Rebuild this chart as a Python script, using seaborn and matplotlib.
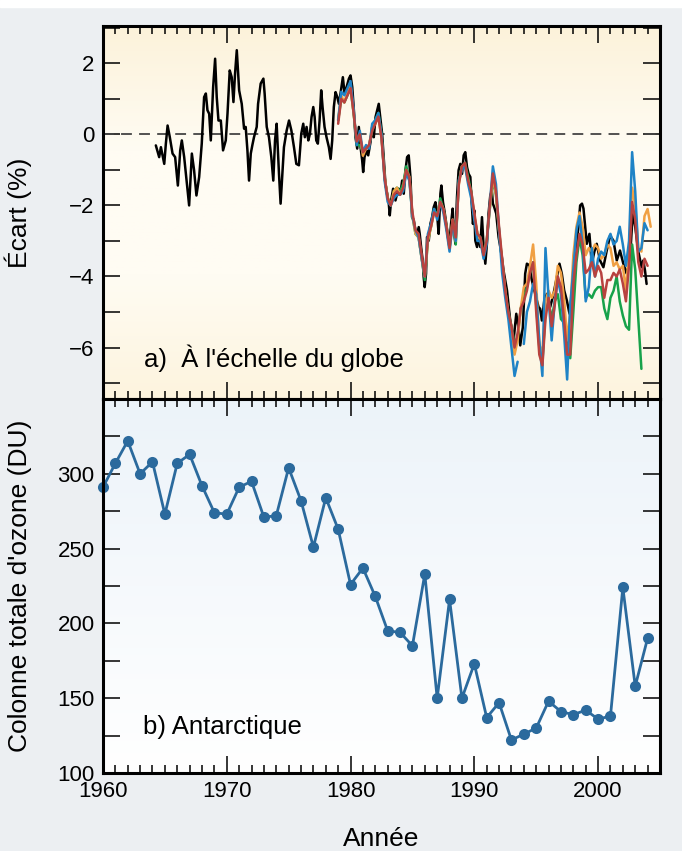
import numpy as np
import pandas as pd
import matplotlib
matplotlib.use("Agg")
import matplotlib.pyplot as plt
import seaborn as sns
from matplotlib.ticker import MultipleLocator, FixedLocator
from matplotlib.colors import LinearSegmentedColormap
from matplotlib.patches import Rectangle

# a) global ozone deviation (%), ground-based series (black)
black_year = [1964.27, 1964.54, 1964.68, 1964.81, 1964.95, 1965.08, 1965.22, 1965.40, 1965.62, 1965.83,
              1966.05, 1966.24, 1966.37, 1966.56, 1966.75, 1966.96, 1967.18, 1967.36, 1967.55, 1967.77,
              1967.98, 1968.17, 1968.31, 1968.44, 1968.58, 1968.71, 1968.90, 1969.06, 1969.19, 1969.33,
              1969.52, 1969.70, 1969.92, 1970.06, 1970.24, 1970.40, 1970.54, 1970.67, 1970.81, 1971.00,
              1971.21, 1971.40, 1971.53, 1971.67, 1971.80, 1971.94, 1972.07, 1972.20, 1972.42, 1972.53,
              1972.74, 1972.96, 1973.06, 1973.23, 1973.41, 1973.60, 1973.76, 1973.90, 1974.03, 1974.22,
              1974.35, 1974.49, 1974.62, 1974.84, 1975.03, 1975.22, 1975.43, 1975.62, 1975.83, 1976.02,
              1976.18, 1976.31, 1976.45, 1976.59, 1976.72, 1976.85, 1976.99, 1977.10, 1977.23, 1977.36,
              1977.50, 1977.63, 1977.74, 1977.90, 1978.06, 1978.25, 1978.39, 1978.52, 1978.65, 1978.79,
              1978.93, 1979.06, 1979.19, 1979.38, 1979.52, 1979.68, 1979.87, 1980.00, 1980.14, 1980.27,
              1980.40, 1980.54, 1980.67, 1980.81, 1980.94, 1981.02, 1981.13, 1981.29, 1981.43, 1981.61,
              1981.75, 1981.88, 1982.02, 1982.15, 1982.28, 1982.55, 1982.69, 1982.82, 1982.96, 1983.09,
              1983.17, 1983.28, 1983.44, 1983.63, 1983.76, 1983.90, 1984.03, 1984.17, 1984.30, 1984.44,
              1984.57, 1984.70, 1984.84, 1984.97, 1985.11, 1985.24, 1985.38, 1985.51, 1985.59, 1985.70,
              1985.83, 1985.91, 1985.99, 1986.10, 1986.18, 1986.32, 1986.45, 1986.59, 1986.72, 1986.86,
              1986.99, 1987.12, 1987.26, 1987.34, 1987.47, 1987.58, 1987.74, 1987.88, 1988.01, 1988.12,
              1988.25, 1988.33, 1988.47, 1988.60, 1988.73, 1988.87, 1989.01, 1989.14, 1989.27, 1989.41,
              1989.54, 1989.68, 1989.76, 1989.89, 1990.00, 1990.08, 1990.22, 1990.35, 1990.48, 1990.62,
              1990.75, 1990.89, 1991.02, 1991.15, 1991.29, 1991.42, 1991.50, 1991.61, 1991.77, 1991.96,
              1992.10, 1992.23, 1992.36, 1992.50, 1992.64, 1992.90, 1993.17, 1993.39, 1993.57, 1993.71,
              1993.92, 1994.11, 1994.25, 1994.46, 1994.65, 1994.92, 1995.19, 1995.32, 1995.46, 1995.65,
              1995.86, 1996.13, 1996.40, 1996.67, 1996.88, 1997.07, 1997.26, 1997.48, 1997.69, 1997.88,
              1998.01, 1998.23, 1998.41, 1998.55, 1998.70, 1998.82, 1999.09, 1999.30, 1999.49, 1999.70,
              1999.89, 2000.16, 2000.43, 2000.70, 2000.97, 2001.24, 2001.51, 2001.77, 2002.04, 2002.31,
              2002.44, 2002.63, 2002.80, 2003.00, 2003.25, 2003.52, 2003.65, 2003.79, 2003.92]
black_val = [-0.31, -0.64, -0.36, -0.59, -0.83, -0.26, 0.25, -0.08, -0.54, -0.64,
             -1.44, -0.45, -0.17, -0.64, -1.30, -2.00, -0.54, -1.01, -1.72, -1.20,
             -0.26, 1.05, 1.15, 0.68, 0.58, -0.17, 1.33, 2.13, 1.05, 0.39,
             0.39, -0.45, -0.17, 0.58, 1.80, 1.61, 0.91, 1.71, 2.37, 1.24,
             0.86, 0.16, 0.21, -0.45, -1.30, -0.54, -0.30, -0.08, 0.21, 0.86,
             1.43, 1.57, 1.15, 0.21, -0.08, -0.64, -1.30, -0.17, 0.30, -1.11,
             -1.95, -1.11, -0.36, 0.11, 0.39, 0.11, -0.36, -0.83, -0.87, 0.02,
             0.30, -0.08, 0.21, -0.17, 0.02, 0.49, 0.77, 0.49, -0.17, -0.26,
             0.39, 1.24, 0.77, 0.21, -0.08, -0.36, -0.69, -0.17, 0.77, 1.19,
             1.05, 0.86, 1.15, 1.61, 1.15, 1.33, 1.57, 1.66, 1.33, 0.68,
             -0.08, -0.40, 0.21, -0.36, -0.73, -1.06, -0.64, -0.45, -0.59, -0.22,
             0.21, -0.08, 0.49, 0.68, 0.86, 0.02, -0.73, -1.39, -1.67, -1.95,
             -2.28, -1.86, -1.53, -1.86, -1.67, -1.53, -1.67, -1.30, -1.67, -1.01,
             -0.64, -0.59, -1.20, -2.33, -2.42, -2.70, -2.80, -2.61, -2.80, -3.17,
             -3.55, -4.02, -4.30, -3.92, -2.89, -2.99, -2.52, -2.33, -2.05, -1.91,
             -2.23, -2.80, -1.67, -1.44, -1.91, -2.14, -2.52, -2.89, -2.99, -2.52,
             -2.09, -2.61, -3.08, -1.77, -1.01, -0.83, -1.11, -0.59, -0.50, -0.92,
             -1.11, -1.20, -1.77, -2.52, -2.14, -2.99, -3.17, -2.89, -3.17, -2.33,
             -3.17, -3.64, -3.08, -2.23, -1.72, -1.58, -1.95, -2.05, -2.23, -2.89,
             -3.17, -3.46, -3.83, -4.11, -4.39, -5.24, -5.80, -5.05, -5.43, -5.94,
             -5.43, -3.92, -3.64, -3.69, -4.11, -4.49, -4.86, -4.91, -5.24, -4.68,
             -4.49, -4.86, -4.49, -4.02, -3.64, -3.92, -4.39, -4.68, -5.05, -4.49,
             -3.92, -3.17, -2.61, -2.00, -1.95, -2.09, -3.08, -2.80, -3.64, -3.30,
             -3.08, -3.55, -3.74, -3.27, -2.85, -2.99, -3.55, -3.27, -3.64, -3.92,
             -3.74, -3.20, -2.20, -2.60, -3.30, -3.74, -3.55, -3.83, -4.21]

# satellite series, quarterly from 1979.0
sat_year = np.arange(1979.0, 2004.3, 0.25)
green_val = [0.4, 1.0, 0.9, 1.1, 1.3, 0.6, -0.3, -0.3, -0.5, -0.4, -0.3, 0.1,
             0.4, 0.6, 0.0, -1.2, -1.8, -2.0, -1.6, -1.5, -1.6, -1.4, -0.9, -1.2,
             -2.3, -2.8, -2.9, -3.5, -4.1, -3.0, -2.6, -2.1, -2.3, -1.8, -2.1, -2.6,
             -3.2, -2.4, -3.1, -1.3, -0.9, -0.8, -1.2, -1.6, -2.3, -2.8, -2.9, -3.4,
             -3.0, -2.1, -1.3, -1.7, -2.7, -3.6, -4.4, -5.0, -5.4, -5.9, -5.7, -4.9,
             -4.6, -4.3, -3.9, -3.6, -4.8, -6.0, -6.4, -5.0, -4.7, -5.2, -4.7, -4.5,
             -5.2, -5.3, -5.9, -6.3, -5.0, -3.6, -2.9, -3.4, -4.6, -4.5, -4.6, -4.4,
             -4.3, -4.3, -4.9, -5.2, -4.6, -4.4, -4.0, -4.7, -5.1, -5.4, -5.5, -3.1,
             -3.8, -5.2, -6.6]
orange_val = [0.4, 1.1, 0.9, 1.2, 1.4, 0.6, -0.2, 0.0, -0.6, -0.4, -0.3, 0.2,
              0.3, 0.5, -0.1, -1.2, -1.8, -2.0, -1.6, -1.5, -1.7, -1.5, -1.0, -1.2,
              -2.3, -2.8, -2.9, -3.5, -4.0, -3.0, -2.6, -2.2, -2.3, -1.9, -2.1, -2.6,
              -3.2, -2.4, -3.0, -1.4, -0.9, -0.9, -1.3, -1.7, -2.3, -2.8, -3.0, -3.4,
              -3.0, -2.1, -1.2, -1.7, -2.7, -3.6, -4.4, -5.1, -5.5, -6.2, -5.8, -4.9,
              -4.3, -4.2, -3.7, -3.1, -4.2, -5.9, -6.2, -4.7, -4.4, -4.6, -4.4, -3.7,
              -3.9, -4.6, -5.8, -5.0, -3.4, -2.6, -2.2, -2.6, -3.4, -3.2, -3.3, -3.1,
              -3.2, -3.5, -3.4, -3.1, -3.2, -3.7, -3.6, -3.8, -3.7, -4.4, -3.3, -1.5,
              -2.0, -3.2, -3.3, -2.3, -2.1, -2.6]
blue_val = [0.4, 1.2, 1.1, 1.3, 1.5, 0.7, -0.3, 0.1, -0.5, -0.3, -0.4, 0.3,
            0.4, 0.6, 0.0, -1.3, -1.9, -2.0, -1.8, -1.7, -1.7, -1.6, -1.1, -1.3,
            -2.3, -2.7, -2.9, -3.5, -4.0, -2.8, -2.5, -2.1, -2.4, -1.9, -2.2, -2.7,
            -3.3, -2.5, -3.0, -1.3, -1.0, -0.9, -1.4, -1.8, -2.4, -3.0, -3.0, -3.5,
            -3.1, -2.0, -0.9, -1.4, -2.7, -3.9, -4.6, -5.2, -6.0, -6.8, -6.4, np.nan,
            -5.9, -5.0, -4.7, -4.2, -4.5, -5.8, -6.8, -3.2, -4.6, -5.8, -4.7, -4.1,
            -4.5, -5.6, -6.9, -4.8, -3.8, -2.7, -2.3, -3.1, -4.7, -4.3, -3.2, -4.0,
            -3.5, -3.3, -3.4, -3.0, -2.8, -3.1, -3.0, -2.6, -3.1, -3.7, -3.0, -0.5,
            -1.6, -3.3, -3.2, -2.5, -2.7]
red_val = [0.3, 1.0, 0.9, 1.1, 1.3, 0.6, -0.2, 0.0, -0.5, -0.4, -0.3, 0.1,
           0.3, 0.5, -0.1, -1.2, -1.8, -2.0, -1.7, -1.6, -1.7, -1.5, -1.0, -1.2,
           -2.2, -2.7, -2.8, -3.4, -4.0, -2.9, -2.6, -2.2, -2.3, -1.9, -2.1, -2.6,
           -3.2, -2.4, -2.9, -1.4, -0.9, -0.8, -1.3, -1.6, -2.2, -2.8, -2.9, -3.4,
           -3.0, -2.0, -1.1, -1.6, -2.6, -3.5, -4.4, -5.0, -5.4, -6.0, -5.6, -4.9,
           -4.7, -4.4, -3.9, -3.6, -5.0, -6.2, -6.5, -5.2, -4.6, -5.4, -4.8, -4.0,
           -4.3, -5.2, -6.2, -6.2, -4.2, -3.4, -2.8, -3.1, -3.9, -3.8, -3.6, -4.0,
           -3.7, -3.9, -4.6, -4.1, -4.1, -3.9, -4.0, -3.8, -4.2, -4.7, -3.7, -1.9,
           -2.4, -3.6, -4.0, -3.5, -3.7]

# b) Antarctic total ozone column (DU), one value per year
ant_year = list(range(1960, 2005))
ant_du = [291, 307, 322, 300, 308, 273, 307, 313, 292, 274,
          273, 291, 295, 271, 272, 304, 282, 251, 284, 263,
          226, 237, 218, 195, 194, 185, 233, 150, 216, 150,
          173, 137, 147, 122, 126, 130, 148, 141, 139, 142,
          136, 138, 224, 158, 190]

sns.set_style("ticks")
plt.rcParams['font.family'] = ['Liberation Sans', 'DejaVu Sans']
plt.rcParams['text.color'] = 'black'
plt.rcParams['axes.labelcolor'] = 'black'

fig = plt.figure(figsize=(6.82, 8.51), dpi=100, facecolor='#eceff2')
fig.patches.append(Rectangle((0, 1 - 7 / 851), 1, 7 / 851, transform=fig.transFigure,
                             color='white', zorder=0))
ax1 = fig.add_axes([0.151, 0.5311, 0.8167, 0.4383])
ax2 = fig.add_axes([0.151, 0.0917, 0.8167, 0.4394], sharex=ax1)

grad = np.linspace(0, 1, 256).reshape(-1, 1)
cm_top = LinearSegmentedColormap.from_list('top', ['#fcf2da', '#fffcf3', '#fffcf3', '#fdf4de'])
cm_bot = LinearSegmentedColormap.from_list('bot', ['#ecf3f9', '#ffffff'])
for ax, cm in ((ax1, cm_top), (ax2, cm_bot)):
    ax.imshow(grad, extent=[0, 1, 0, 1], transform=ax.transAxes, aspect='auto',
              cmap=cm, zorder=0)

ax1.axhline(0, color='#444444', lw=1.3, dashes=(6, 4), zorder=1)

lw = 1.8
sns.lineplot(x=black_year, y=black_val, ax=ax1, color='black', lw=lw, estimator=None, sort=False)
sns.lineplot(x=sat_year[:len(green_val)], y=green_val, ax=ax1, color='#17a24a', lw=lw,
             estimator=None, sort=False)
sns.lineplot(x=sat_year[:len(orange_val)], y=orange_val, ax=ax1, color='#f0a043', lw=lw,
             estimator=None, sort=False)
blue = pd.DataFrame({'year': sat_year[:len(blue_val)], 'val': blue_val})
blue['seg'] = blue['val'].isna().cumsum()
sns.lineplot(data=blue.dropna(), x='year', y='val', units='seg', ax=ax1, color='#1f83c6', lw=lw,
             estimator=None, sort=False)
sns.lineplot(x=sat_year[:len(red_val)], y=red_val, ax=ax1, color='#b8423f', lw=lw,
             estimator=None, sort=False)

sns.lineplot(x=ant_year, y=ant_du, ax=ax2, color='#2b6a9d', lw=2.0, marker='o',
             markersize=8, markeredgewidth=0, estimator=None, sort=False, clip_on=False)

ax1.set_xlim(1960, 2005)
ax1.set_ylim(-7.45, 3.05)
ax2.set_ylim(100, 350)

for ax in (ax1, ax2):
    for s in ax.spines.values():
        s.set_linewidth(2.2)
        s.set_edgecolor('black')
        s.set_zorder(5)
    ax.xaxis.set_major_locator(MultipleLocator(10))
    ax.xaxis.set_minor_locator(MultipleLocator(1))
    ax.tick_params(which='both', direction='in', top=True, right=True, width=1.1,
                   color='black', labelcolor='black', labelsize=16, pad=6)
    ax.tick_params(which='major', length=12)
    ax.tick_params(axis='x', which='minor', length=6)
    ax.tick_params(axis='y', which='minor', length=12)
    ax.set_xlabel('')
    ax.set_ylabel('')

ax1.yaxis.set_major_locator(FixedLocator([-6, -4, -2, 0, 2]))
ax1.yaxis.set_minor_locator(MultipleLocator(1))
ax2.yaxis.set_major_locator(FixedLocator([100, 150, 200, 250, 300]))
ax2.yaxis.set_minor_locator(MultipleLocator(25))
ax1.tick_params(labelbottom=False)

ax1.set_ylabel('Écart (%)', fontsize=19)
ax1.yaxis.set_label_coords(-0.128, 0.5)
ax2.set_ylabel("Colonne totale d'ozone (DU)", fontsize=19)
ax2.yaxis.set_label_coords(-0.128, 0.5)
ax2.set_xlabel('Année', fontsize=19)
ax2.xaxis.set_label_coords(0.5, -0.145)

ax1.text(0.074, 0.11, "a)  À l'échelle du globe", transform=ax1.transAxes,
         fontsize=18.5, va='center', ha='left')
ax2.text(0.071, 0.123, "b) Antarctique", transform=ax2.transAxes,
         fontsize=18.5, va='center', ha='left')

fig.savefig('out.png', dpi=100, facecolor=fig.get_facecolor())
